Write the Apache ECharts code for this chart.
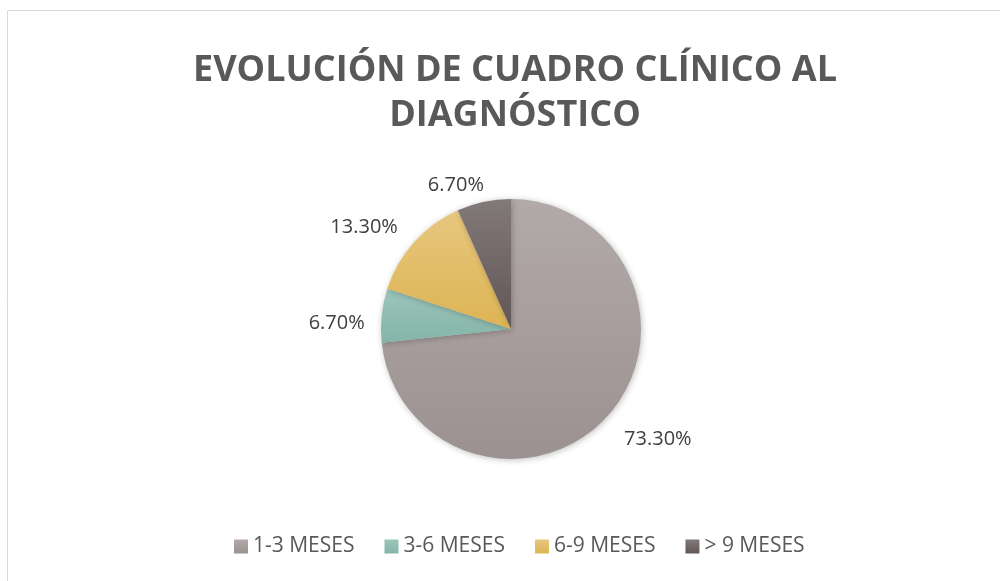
<!DOCTYPE html>
<html>
<head>
<meta charset="utf-8">
<style>
html,body{margin:0;padding:0;background:#fff;}
#c{width:1000px;height:581px;}
</style>
<script src="https://cdn.jsdelivr.net/npm/echarts@6/dist/echarts.min.js"></script>
</head>
<body>
<div id="c"></div>
<script>
const titleText = 'EVOLUCIÓN DE CUADRO CLÍNICO AL\nDIAGNÓSTICO';
const categories = ['1-3 MESES', '3-6 MESES', '6-9 MESES', '> 9 MESES'];
const values = [73.3, 6.7, 13.3, 6.7];
const topColors = ['#b2aaa8', '#9cc5ba', '#e7c77f', '#827979'];
const bottomColors = ['#9b9191', '#84b4a8', '#ddb453', '#625657'];
// small nudges of the outside labels (px) to mimic the original best-fit placement
const labelNudge = [[1, 14], [2, 9], [-1, -5], [8, -3]];

function grad(i){
  return new echarts.graphic.LinearGradient(0,0,0,1,[
    {offset:0,color:topColors[i]},{offset:1,color:bottomColors[i]}]);
}

const chart = echarts.init(document.getElementById('c'), null, {renderer:'canvas'});
chart.setOption({
  animation:false,
  backgroundColor:'#fff',
  graphic:[{type:'rect',shape:{x:7.5,y:10.5,width:1100,height:700},style:{fill:'none',stroke:'#d9d9d9',lineWidth:1},silent:true}],
  title:{
    text:titleText,
    left:510,
    textAlign:'center',
    top:43,
    textStyle:{fontFamily:'Open Sans',fontWeight:'bold',fontSize:36,color:'#595959',lineHeight:45}
  },
  legend:{
    top:531,
    left:229,
    itemWidth:14,itemHeight:14,itemGap:30,
    icon:'rect',
    textStyle:{fontFamily:'Open Sans',fontSize:21,color:'#595959'},
    data:categories.map((c,i)=>({name:c,itemStyle:{color:grad(i)}}))
  },
  series:[{
    type:'pie',
    center:[511,329],
    radius:130,
    startAngle:90,
    clockwise:true,
    label:{
      show:true,position:'outside',
      fontFamily:'Open Sans',fontSize:20,color:'#404040',
      formatter:p=>p.value.toFixed(2)+'%'
    },
    labelLine:{show:false,length:14,length2:0},
    labelLayout:p=>({dx:labelNudge[p.dataIndex][0],dy:labelNudge[p.dataIndex][1]}),
    itemStyle:{shadowBlur:6,shadowColor:'rgba(0,0,0,0.25)',shadowOffsetX:1,shadowOffsetY:1},
    emphasis:{disabled:true},
    data:categories.map((c,i)=>({name:c,value:values[i],itemStyle:{color:grad(i)}}))
  }]
});
</script>
</body>
</html>
